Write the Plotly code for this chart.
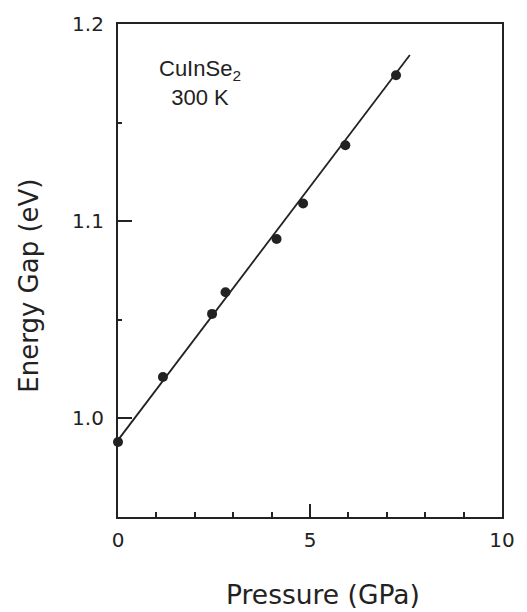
import plotly.graph_objects as go

# Measured band gap of CuInSe2 at 300 K versus hydrostatic pressure
pressure_gpa = [0.0, 1.17, 2.45, 2.8, 4.13, 4.82, 5.92, 7.24]
energy_gap_ev = [0.988, 1.021, 1.053, 1.064, 1.091, 1.109, 1.1385, 1.174]

# Linear fit drawn through the data
fit_pressure = [0.0, 7.6]
fit_intercept = 0.989
fit_slope = 0.0257
fit_gap = [fit_intercept + fit_slope * p for p in fit_pressure]

ink = "#222222"
title_font = "DejaVu Sans, sans-serif"

fig = go.Figure()
fig.add_trace(go.Scatter(
    x=fit_pressure, y=fit_gap, mode="lines",
    line=dict(color=ink, width=1.8), showlegend=False, hoverinfo="skip",
))
fig.add_trace(go.Scatter(
    x=pressure_gpa, y=energy_gap_ev, mode="markers",
    marker=dict(color=ink, size=10), showlegend=False, cliponaxis=False,
))

fig.update_layout(
    width=527, height=612,
    margin=dict(l=118, r=17, t=22, b=95),
    paper_bgcolor="white", plot_bgcolor="white",
    font=dict(family="Liberation Sans, Arial, sans-serif", color=ink),
    xaxis=dict(
        range=[0, 10], tickvals=[0, 5, 10], ticktext=["0", "5", "10"],
        ticks="inside", ticklen=13, tickwidth=1.8, tickcolor=ink,
        minor=dict(dtick=1, ticks="inside", ticklen=5, tickwidth=1.8, tickcolor=ink),
        showline=True, linecolor=ink, linewidth=2.2, mirror=True,
        showgrid=False, zeroline=False,
        tickfont=dict(size=20, family=title_font, color=ink),
        ticklabelstandoff=4,
    ),
    yaxis=dict(
        range=[0.95, 1.2], tickvals=[1.0, 1.1, 1.2], ticktext=["1.0", "1.1", "1.2"],
        ticks="inside", ticklen=14, tickwidth=1.8, tickcolor=ink,
        minor=dict(tickvals=[1.05, 1.15], ticks="inside", ticklen=4, tickwidth=1.8, tickcolor=ink),
        showline=True, linecolor=ink, linewidth=2.2, mirror=True,
        showgrid=False, zeroline=False,
        tickfont=dict(size=20, family=title_font, color=ink),
        ticklabelstandoff=8,
    ),
)

# Axis titles
fig.add_annotation(
    text="Pressure (GPa)", xref="paper", yref="paper", x=0.533, y=-0.158,
    xanchor="center", yanchor="middle", showarrow=False,
    font=dict(size=26.5, family=title_font, color=ink),
)
fig.add_annotation(
    text="Energy Gap (eV)", xref="paper", yref="paper", x=-0.232, y=0.469,
    xanchor="center", yanchor="middle", showarrow=False, textangle=-90,
    font=dict(size=26, family=title_font, color=ink),
)

# Sample label
fig.add_annotation(
    text="CuInSe<sub>2</sub><br>300 K", xref="paper", yref="paper", x=0.214, y=0.881,
    xanchor="center", yanchor="middle", showarrow=False, align="center",
    font=dict(size=22, color=ink),
)

fig.write_html("out.html")
